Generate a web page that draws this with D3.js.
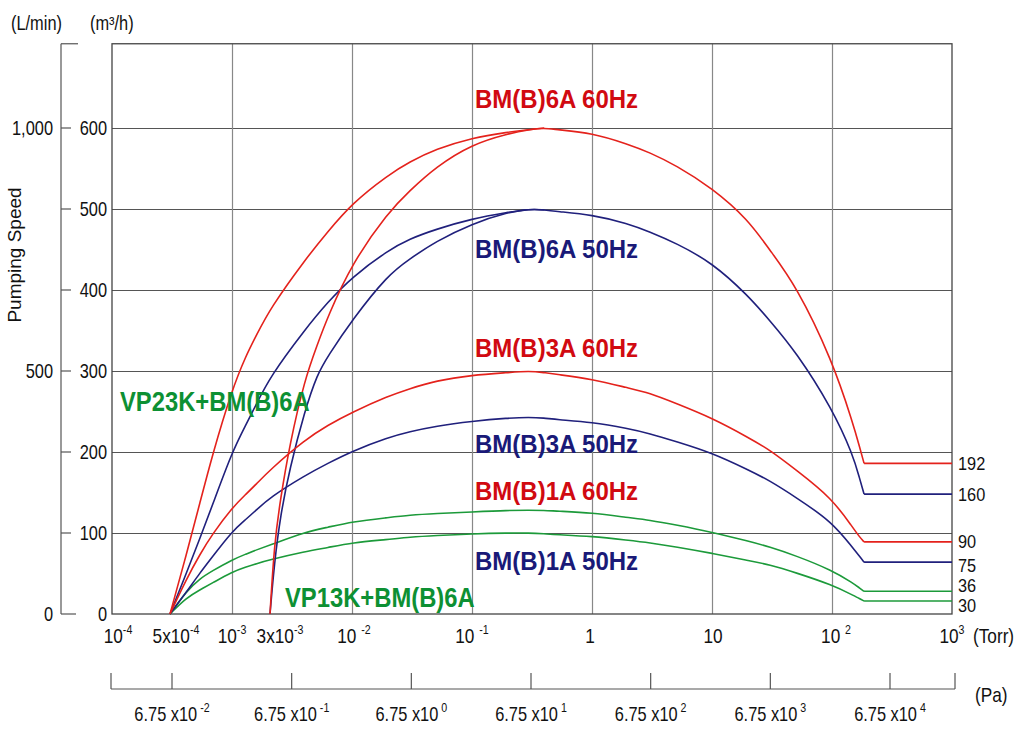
<!DOCTYPE html>
<html>
<head>
<meta charset="utf-8">
<script src="https://cdn.jsdelivr.net/npm/d3@7"></script>
<style>
  body { margin: 0; background: #fff; }
  text { font-family: "Liberation Sans", Arial, sans-serif; fill: #111; }
</style>
</head>
<body>
<svg id="chart" width="1022" height="729"></svg>
<script>
// pressure samples in Torr
var pressVP23K = [5e-4, 6e-4, 7e-4, 8e-4, 1e-3, 1.5e-3, 2e-3, 3e-3, 5e-3, 7e-3, 1e-2, 2e-2, 3e-2, 5e-2,
                  0.1, 0.2, 0.3, 0.4, 0.5, 1, 2, 3, 5, 10, 20, 30, 50, 100, 150, 170, 185];
var pressVP13K = [3e-3, 3.2e-3, 3.5e-3, 4e-3, 5e-3, 6e-3, 7e-3, 1e-2, 2e-2, 3e-2, 5e-2, 0.1, 0.2, 0.3, 0.4];
var pressEnd = 1000;

// pumping speed in m3/h
var bm6a60 = [0, 73, 138, 195, 277, 319, 343, 377, 437, 472, 507, 542, 558, 574, 588, 595, 598, 600, 598, 594,
              580, 570, 554, 526, 487, 450, 406, 314, 235, 206, 186];
var bm6a50 = [0, 50, 94, 133, 200, 234, 258, 293, 351, 385, 416, 449, 463, 475, 488, 496, 500, 499, 497, 493,
              482, 472, 458, 434, 393, 363, 324, 254, 196, 167, 148];
var bm3a60 = [0, 43, 74, 98, 131, 148, 160, 178, 215, 233, 249, 269, 278, 288, 295, 298, 300, 298, 296, 290,
              279, 273, 260, 242, 218, 203, 178, 143, 106, 95, 89];
var bm3a50 = [0, 27, 51, 70, 102, 117, 128, 144, 171, 186, 201, 218, 225, 232, 238, 242, 243, 242, 240, 237,
              229, 223, 213, 199, 178, 165, 144, 114, 81, 71, 64];
var bm1a60 = [0, 28, 44, 53, 67, 74, 79, 85, 101, 107, 114, 119, 122, 124, 126, 128, 128, 128, 127, 125,
              119, 116, 110, 101, 90, 83, 72, 54, 38, 32, 28];
var bm1a50 = [0, 20, 30, 38, 52, 58, 62, 67, 77, 82, 88, 92, 95, 97, 99, 100, 100, 99, 98, 96,
              91, 88, 83, 75, 66, 61, 51, 36, 23, 19, 16];
var vp13k6a60 = [0, 88, 142, 209, 290, 332, 367, 433, 496, 522, 552, 580, 593, 598, 600];
var vp13k6a50 = [0, 63, 122, 179, 251, 296, 318, 363, 419, 438, 460, 482, 496, 500, 499];

var endLabels = ["192", "160", "90", "75", "36", "30"];

var torrTicks = [1e-4, 5e-4, 1e-3, 3e-3, 1e-2, 1e-1, 1, 10, 100, 1000];
var torrBase = ["10", "5x10", "10", "3x10", "10 ", "10 ", "1", "10", "10 ", "10"];
var torrSup = ["-4", "-4", "-3", "-3", "-2", "-1", "", "", "2", "3"];

var paTicks = [6.75e-2, 6.75e-1, 6.75e0, 6.75e1, 6.75e2, 6.75e3, 6.75e4];
var paSup = ["-2", "-1", "0", "1", "2", "3", "4"];

var m3hTicks = [0, 100, 200, 300, 400, 500, 600];
var lminAt = [0, 300, 600];
var lminText = ["0", "500", "1,000"];

var RED = "#e4221c", NAVY = "#20207c", GREEN = "#1c9a3a";
var NARROW = 0.82;

var svg = d3.select("#chart");
var left = 112, right = 952, bottom = 614;

// the printed chart stretches the low-pressure end, so the scale is piecewise
var x = d3.scaleLog()
  .domain([1e-4, 5e-4, 1e-3, 3e-3, 1e-2, 1e3])
  .range([left, 170, 232, 270, 352, right]);
var y = d3.scaleLinear().domain([0, 600]).range([bottom, 128]);
var plotTop = y(704);
var xPa = d3.scaleLog().domain([6.75e-2, 6.75e4]).range([172, 890]);

// condensed text: position by transform, squeeze horizontally
function at(sel, fx, fy, sx) {
  return sel.attr("transform", function (d, i) {
    var px = typeof fx === "function" ? fx(d, i) : fx;
    var py = typeof fy === "function" ? fy(d, i) : fy;
    return "translate(" + px + "," + py + ") scale(" + sx + ",1)";
  });
}

// grid
svg.append("g")
  .attr("transform", "translate(" + left + ",0)")
  .call(d3.axisLeft(y).tickValues(m3hTicks.slice(1)).tickSize(-(right - left)).tickFormat(""))
  .call(function (g) { g.select(".domain").remove(); })
  .selectAll("line").attr("stroke", "#555").attr("stroke-width", 1.2);

svg.append("g")
  .attr("transform", "translate(0," + bottom + ")")
  .call(d3.axisBottom(x).tickValues([1e-3, 1e-2, 1e-1, 1, 10, 100]).tickSize(-(bottom - plotTop)).tickFormat(""))
  .call(function (g) { g.select(".domain").remove(); })
  .selectAll("line").attr("stroke", "#888").attr("stroke-width", 1.2);

// frame
svg.append("rect")
  .attr("x", left).attr("y", plotTop).attr("width", right - left).attr("height", bottom - plotTop)
  .attr("fill", "none").attr("stroke", "#444").attr("stroke-width", 1.3);

// m3/h labels
at(svg.selectAll(".m3h").data(m3hTicks).enter().append("text"), 107, function (d) { return y(d); }, NARROW)
  .attr("dy", "0.36em").attr("text-anchor", "end").attr("font-size", 20)
  .text(function (d) { return d; });

// L/min axis
svg.append("line").attr("x1", 61).attr("x2", 61).attr("y1", plotTop).attr("y2", bottom)
  .attr("stroke", "#555").attr("stroke-width", 1.2);
svg.selectAll(".lt").data(m3hTicks.concat([704])).enter().append("line")
  .attr("x1", 61)
  .attr("x2", function (d) { return d === 704 ? 78 : d === 0 ? 76 : 71; })
  .attr("y1", function (d) { return y(d); }).attr("y2", function (d) { return y(d); })
  .attr("stroke", "#555").attr("stroke-width", 1.2);
at(svg.selectAll(".lmin").data(lminAt).enter().append("text"), 53, function (d) { return y(d); }, NARROW)
  .attr("dy", "0.36em").attr("text-anchor", "end").attr("font-size", 20)
  .text(function (d, i) { return lminText[i]; });

at(svg.append("text"), 11, 30, NARROW).attr("font-size", 20).text("(L/min)");
at(svg.append("text"), 90, 30, NARROW).attr("font-size", 20).text("(m³/h)");
svg.append("text").attr("transform", "translate(21,255) rotate(-90)")
  .attr("text-anchor", "middle").attr("font-size", 19)
  .text("Pumping Speed");

// Torr labels
var torrNudge = [6, 6, 0, 10, 2, 0, -2, 1, 4, 0];
var tl = at(svg.selectAll(".torr").data(torrTicks).enter().append("text"),
    function (d, i) { return x(d) + torrNudge[i]; }, 643, NARROW)
  .attr("text-anchor", "middle").attr("font-size", 21);
tl.append("tspan").text(function (d, i) { return torrBase[i]; });
tl.append("tspan").attr("font-size", 13).attr("dy", -9).text(function (d, i) { return torrSup[i]; });
at(svg.append("text"), 973, 643, NARROW).attr("font-size", 21).text("(Torr)");

// Pa axis
var paLeft = x(1e-4) - 1, paRight = x(1e3) + 3;
svg.append("line").attr("x1", paLeft).attr("x2", paRight).attr("y1", 689).attr("y2", 689)
  .attr("stroke", "#555").attr("stroke-width", 1.2);
svg.selectAll(".pt").data([paLeft, paRight].concat(paTicks.map(xPa))).enter().append("line")
  .attr("x1", function (d) { return d; }).attr("x2", function (d) { return d; })
  .attr("y1", 673).attr("y2", 689)
  .attr("stroke", "#555").attr("stroke-width", 1.2);
var pl = at(svg.selectAll(".pa").data(paTicks).enter().append("text"),
    function (d) { return xPa(d); }, 721, NARROW)
  .attr("text-anchor", "middle").attr("font-size", 20);
pl.append("tspan").text("6.75 x10");
pl.append("tspan").attr("font-size", 13).attr("dy", -9).text(function (d, i) { return " " + paSup[i]; });
at(svg.append("text"), 975, 702, NARROW).attr("font-size", 21).text("(Pa)");

// curves
var line = d3.line().curve(d3.curveBasis);
var series = [
  { p: pressVP23K, v: bm1a50, c: GREEN, tail: true },
  { p: pressVP23K, v: bm1a60, c: GREEN, tail: true },
  { p: pressVP23K, v: bm3a50, c: NAVY, tail: true },
  { p: pressVP23K, v: bm6a50, c: NAVY, tail: true },
  { p: pressVP13K, v: vp13k6a50, c: NAVY, tail: false },
  { p: pressVP23K, v: bm3a60, c: RED, tail: true },
  { p: pressVP23K, v: bm6a60, c: RED, tail: true },
  { p: pressVP13K, v: vp13k6a60, c: RED, tail: false }
];
series.forEach(function (s) {
  var pts = s.p.map(function (p, i) { return [x(p), y(s.v[i])]; });
  svg.append("path").attr("d", line(pts))
    .attr("fill", "none").attr("stroke", s.c).attr("stroke-width", 1.6);
  if (s.tail) {
    var last = pts[pts.length - 1];
    svg.append("path").attr("d", d3.line()([last, [x(pressEnd), last[1]]]))
      .attr("fill", "none").attr("stroke", s.c).attr("stroke-width", 1.6);
  }
});

// end values
var endSeries = [bm6a60, bm6a50, bm3a60, bm3a50, bm1a60, bm1a50];
var endNudge = [0, 0, -1, 3, -6, 4];
at(svg.selectAll(".endv").data(endSeries).enter().append("text"),
    x(pressEnd) + 6, function (d, i) { return y(d[d.length - 1]) + endNudge[i]; }, 0.86)
  .attr("dy", "0.36em").attr("font-size", 19)
  .text(function (d, i) { return endLabels[i]; });

// series names
var names = [
  { t: "BM(B)6A 60Hz", c: "#d10a11", y: 108 },
  { t: "BM(B)6A 50Hz", c: "#1a1a78", y: 258 },
  { t: "BM(B)3A 60Hz", c: "#d10a11", y: 357 },
  { t: "BM(B)3A 50Hz", c: "#1a1a78", y: 453 },
  { t: "BM(B)1A 60Hz", c: "#d10a11", y: 500 },
  { t: "BM(B)1A 50Hz", c: "#1a1a78", y: 570 }
];
at(svg.selectAll(".name").data(names).enter().append("text"),
    x(0.1) + 3, function (d) { return d.y; }, 0.96)
  .attr("font-size", 25).attr("font-weight", "bold")
  .style("fill", function (d) { return d.c; })
  .text(function (d) { return d.t; });

at(svg.append("text"), 120, 411, 0.85)
  .attr("font-size", 28).attr("font-weight", "bold").style("fill", "#0d9033")
  .text("VP23K+BM(B)6A");
at(svg.append("text"), 285, 607, 0.85)
  .attr("font-size", 28).attr("font-weight", "bold").style("fill", "#0d9033")
  .text("VP13K+BM(B)6A");
</script>
</body>
</html>
